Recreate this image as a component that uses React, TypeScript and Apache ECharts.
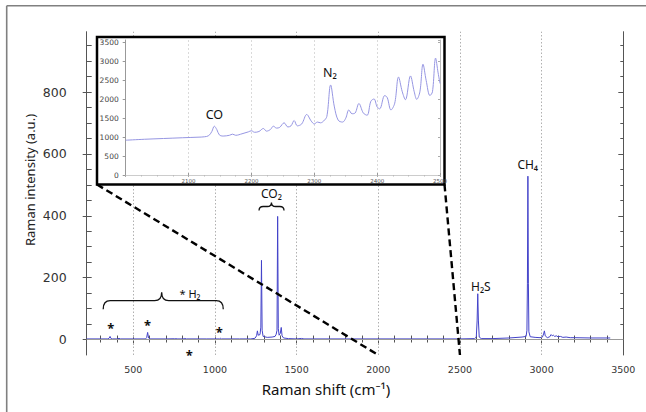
import React, { useEffect, useRef } from 'react';
import * as echarts from 'echarts';

// ---------------- data ----------------
const mainShift = [
  215, 300, 345, 352, 358, 364, 372, 405, 413, 420, 500, 575, 582, 588, 594, 602,
  700, 752, 760, 768, 805, 815, 825, 950, 1030, 1035, 1040, 1150, 1220, 1245, 1255,
  1260, 1265, 1276, 1281, 1285, 1289, 1295, 1320, 1350, 1368, 1375, 1380, 1384, 1388,
  1393, 1400, 1406, 1411, 1420, 1450, 1500, 1530, 1545, 1700, 2000, 2300, 2500, 2590,
  2600, 2605, 2609, 2613, 2618, 2630, 2700, 2800, 2880, 2905, 2910, 2913, 2916, 2919,
  2922, 2930, 2960, 2990, 3005, 3012, 3017, 3022, 3035, 3050, 3058, 3065, 3072, 3080,
  3090, 3100, 3115, 3130, 3150, 3175, 3200, 3300, 3420,
];
const mainIntensity = [
  2, 2, 2, 4, 10, 3, 2, 2, 4, 2, 2, 2, 6, 23, 5, 2,
  2, 2.5, 3, 2, 2, 3.5, 2, 2, 2, 4, 2, 2, 2, 4, 12,
  28, 14, 16, 40, 256, 30, 10, 7, 8, 10, 17, 30, 398, 35,
  14, 20, 39, 12, 5, 3, 2, 3.5, 2, 2, 2, 2, 2, 3,
  8, 60, 148, 60, 8, 3, 3, 5, 8, 10, 30, 180, 528, 180,
  25, 9, 7, 6, 8, 18, 28, 12, 6, 9, 16, 12, 14, 10,
  12, 9, 10, 7, 8, 6, 6, 5, 5,
];

const insetShift = [
  2000, 2030, 2060, 2090, 2115, 2125, 2132, 2137, 2141, 2145, 2149, 2155, 2165, 2170,
  2175, 2185, 2195, 2200, 2205, 2212, 2219, 2224, 2230, 2235, 2240, 2245, 2252, 2258,
  2263, 2268, 2273, 2280, 2288, 2295, 2300, 2305, 2310, 2315, 2320, 2326, 2332, 2338,
  2345, 2350, 2355, 2360, 2365, 2371, 2378, 2384, 2390, 2395, 2400, 2404, 2412, 2416,
  2422, 2428, 2434, 2440, 2445, 2453, 2459, 2463, 2468, 2473, 2478, 2484, 2488, 2493,
  2497, 2500,
];
const insetIntensity = [
  920, 945, 965, 985, 1000, 1010, 1040, 1150, 1290, 1200, 1060, 1030, 1050, 1080,
  1050, 1090, 1140, 1170, 1130, 1150, 1230, 1160, 1200, 1290, 1240, 1260, 1380, 1270,
  1300, 1440, 1300, 1350, 1600, 1430, 1350, 1400, 1380, 1430, 1550, 2380, 1800, 1450,
  1400, 1500, 1720, 1620, 1640, 1890, 1640, 1580, 1950, 2010, 1800, 1750, 2100, 2050,
  1720, 1900, 2590, 2200, 1990, 2620, 2200, 2000, 2200, 2930, 2500, 2100, 2200, 3090,
  2700, 2420,
];

const xLabelValues = [500, 1000, 1500, 2000, 2500, 3000, 3500];
const xMinorValues = [
  300, 400, 500, 600, 700, 800, 900, 1000, 1100, 1200, 1300, 1400, 1500, 1600, 1700,
  1800, 1900, 2000, 2100, 2200, 2300, 2400, 2500, 2600, 2700, 2800, 2900, 3000, 3100,
  3200, 3300, 3400, 3500,
];
const yLabelValues = [0, 200, 400, 600, 800];
const yMinorValues = [
  0, 50, 100, 150, 200, 250, 300, 350, 400, 450, 500, 550, 600, 650, 700, 750, 800,
  850, 900, 950,
];
const gridXValues = [500, 1000, 1500, 2000, 2500, 3000];
const insetXLabels = [2100, 2200, 2300, 2400, 2500];
const insetYLabels = [0, 500, 1000, 1500, 2000, 2500, 3000, 3500];

// annotation anchors (data coordinates)
const asterisks: [number, number][] = [
  [363, 48], [588, 57], [1026, 33], [843, -40],
];
const peakLabels: { text: string; x: number; y: number; size: number }[] = [
  { text: 'CO₂', x: 1346, y: 471, size: 12 },
  { text: 'H₂S', x: 2628, y: 173, size: 12 },
  { text: 'CH₄', x: 2915, y: 565, size: 12 },
  { text: '* H₂', x: 847, y: 149, size: 11 },
];
const braces: { x0: number; xm: number; x1: number; yt: number; yb: number }[] = [
  { x0: 316, xm: 674, x1: 1051, yt: 153, yb: 98 },
  { x0: 1270, xm: 1346, x1: 1423, yt: 443, yb: 417 },
];
const insetLabels: { text: string; x: number; y: number }[] = [
  { text: 'CO', x: 2141, y: 1600 },
  { text: 'N₂', x: 2325, y: 2717 },
];

// ---------------- shapes ----------------
const Brace = echarts.graphic.extendShape({
  shape: { x0: 0, xm: 0, x1: 0, yt: 0, yb: 0 },
  buildPath(ctx: any, s: any) {
    const ym = (s.yt + s.yb) / 2;
    const r1 = Math.min(7, (s.xm - s.x0) / 3);
    const r2 = Math.min(7, (s.x1 - s.xm) / 3);
    ctx.moveTo(s.x0, s.yb);
    ctx.quadraticCurveTo(s.x0, ym, s.x0 + r1, ym);
    ctx.lineTo(s.xm - r1, ym);
    ctx.quadraticCurveTo(s.xm, ym, s.xm, s.yt);
    ctx.moveTo(s.xm, s.yt);
    ctx.quadraticCurveTo(s.xm, ym, s.xm + r2, ym);
    ctx.lineTo(s.x1 - r2, ym);
    ctx.quadraticCurveTo(s.x1, ym, s.x1, s.yb);
  },
});
echarts.graphic.registerShape('brace', Brace);

// ---------------- layout ----------------
const MAIN = { left: 86.7, right: 22.7, top: 31.7, bottom: 57 };
const BOX = { x: 97, y: 37, w: 347.5, h: 147.5 };
const INSET = { left: 125.7, right: 206, top: 40, bottom: 237 };
const AXIS_COLOR = '#555';
const LABEL_FONT = 'DejaVu Sans';
const ANNOT_FONT = 'Noto Sans';
const plain = (v: number) => String(v);

export default function App() {
  const ref = useRef<HTMLDivElement>(null);

  useEffect(() => {
    if (!ref.current) return;
    const chart = echarts.init(ref.current, undefined, { renderer: 'svg' });

    const mainData = mainShift.map((x, i) => [x, mainIntensity[i]]);
    const insetData = insetShift.map((x, i) => [x, insetIntensity[i]]);

    const mainX = { type: 'value', gridIndex: 0, min: 215, max: 3500, splitLine: { show: false } };
    const mainY = { type: 'value', gridIndex: 0, min: -50, max: 995, splitLine: { show: false } };
    const lineStyle = { color: AXIS_COLOR, width: 1 };

    const option: any = {
      animation: false,
      textStyle: { fontFamily: LABEL_FONT },
      grid: [
        { ...MAIN, containLabel: false },
        { ...INSET, containLabel: false },
      ],
      xAxis: [
        {
          ...mainX, position: 'bottom',
          axisLine: { show: true, lineStyle },
          axisLabel: { customValues: xLabelValues, formatter: plain, fontSize: 9.5, color: '#333', margin: 9.5 },
          axisTick: { show: true, customValues: xLabelValues, inside: false, length: 3, lineStyle },
        },
        {
          ...mainX, position: 'bottom',
          axisLine: { show: false },
          axisLabel: { show: false },
          axisTick: { show: true, customValues: xMinorValues, inside: true, length: 4, lineStyle },
        },
        {
          ...mainX, position: 'top',
          axisLine: { show: true, lineStyle },
          axisLabel: { show: false },
          axisTick: { show: true, customValues: xMinorValues, inside: true, length: 3, lineStyle },
        },
        {
          ...mainX, position: 'top',
          axisLine: { show: false },
          axisLabel: { show: false },
          axisTick: { show: true, customValues: xLabelValues, inside: true, length: 5, lineStyle },
        },
        {
          type: 'value', gridIndex: 1, position: 'bottom', min: 2000, max: 2500, interval: 100,
          z: 11,
          axisLine: { show: true, lineStyle: { color: '#999', width: 1 } },
          axisLabel: { customValues: insetXLabels, formatter: plain, fontSize: 5.5, color: '#555', margin: 3 },
          axisTick: { show: true, inside: true, length: 2, lineStyle: { color: '#999' } },
          splitLine: { show: true, lineStyle: { color: '#d0d0d0', type: [2, 2], width: 0.8 } },
        },
        {
          type: 'value', gridIndex: 1, position: 'top', min: 2000, max: 2500, interval: 100,
          z: 11,
          axisLine: { show: true, lineStyle: { color: '#ccc', width: 1 } },
          axisLabel: { show: false },
          axisTick: { show: true, inside: true, length: 2, lineStyle: { color: '#aaa' } },
          minorTick: { show: true, splitNumber: 4, length: 1.5, lineStyle: { color: '#bbb' } },
          splitLine: { show: false },
        },
      ],
      yAxis: [
        {
          ...mainY, position: 'left',
          axisLine: { show: true, lineStyle },
          axisLabel: { customValues: yLabelValues, formatter: plain, fontSize: 12.5, color: '#333', margin: 20 },
          axisTick: { show: true, customValues: yLabelValues, inside: false, length: 4, lineStyle },
        },
        {
          ...mainY, position: 'left',
          axisLine: { show: false },
          axisLabel: { show: false },
          axisTick: { show: true, customValues: yMinorValues, inside: true, length: 5, lineStyle },
        },
        {
          ...mainY, position: 'right',
          axisLine: { show: true, lineStyle },
          axisLabel: { show: false },
          axisTick: { show: true, customValues: yMinorValues, inside: true, length: 3, lineStyle },
        },
        {
          ...mainY, position: 'right',
          axisLine: { show: false },
          axisLabel: { show: false },
          axisTick: { show: true, customValues: yLabelValues, inside: true, length: 5, lineStyle },
        },
        {
          type: 'value', gridIndex: 1, position: 'left', min: 0, max: 3570, interval: 500,
          z: 11,
          axisLine: { show: true, lineStyle: { color: '#999', width: 1 } },
          axisLabel: { customValues: insetYLabels, formatter: plain, fontSize: 7.5, color: '#444', margin: 7 },
          axisTick: { show: true, customValues: insetYLabels, length: 3, lineStyle: { color: '#999' } },
          splitLine: { show: false },
        },
        {
          type: 'value', gridIndex: 1, position: 'right', min: 0, max: 3570, interval: 500,
          z: 11,
          axisLine: { show: true, lineStyle: { color: '#bbb', width: 1 } },
          axisLabel: { show: false },
          axisTick: { show: true, inside: true, length: 2, lineStyle: { color: '#aaa' } },
          splitLine: { show: false },
        },
      ],
      series: [
        {
          type: 'line', xAxisIndex: 0, yAxisIndex: 0, z: 3,
          data: mainData, showSymbol: false, symbol: 'none',
          lineStyle: { color: '#4343c9', width: 1 },
        },
        {
          type: 'line', xAxisIndex: 4, yAxisIndex: 4, z: 12,
          data: insetData, showSymbol: false, symbol: 'none', smooth: 0.35,
          lineStyle: { color: '#9696e2', width: 1 },
        },
        {
          type: 'line', xAxisIndex: 0, yAxisIndex: 0, z: 1,
          data: [[215, 0]], showSymbol: false, symbol: 'none',
          lineStyle: { opacity: 0 },
          markLine: {
            silent: true, symbol: ['none', 'none'], label: { show: false },
            data: [
              { yAxis: 0, lineStyle: { color: '#9a9a9a', type: 'solid', width: 1 } },
              ...gridXValues.map((v) => ({ xAxis: v, lineStyle: { color: '#b0b0b0', type: [1.5, 2], width: 1 } })),
            ],
          },
        },
      ],
    };

    chart.setOption(option);

    const p = (x: number, y: number) => chart.convertToPixel({ seriesIndex: 0 }, [x, y]) as number[];
    const pi = (x: number, y: number) => chart.convertToPixel({ seriesIndex: 1 }, [x, y]) as number[];

    const graphics: any[] = [];
    // outer frame (top and left)
    graphics.push({ type: 'line', z: 1, shape: { x1: 6.7, y1: 5.7, x2: 646, y2: 5.7 }, style: { stroke: '#808080', lineWidth: 1.6 } });
    graphics.push({ type: 'line', z: 1, shape: { x1: 6.7, y1: 5.7, x2: 6.7, y2: 412 }, style: { stroke: '#808080', lineWidth: 1.6 } });

    // inset box
    graphics.push({
      type: 'rect', z: 10,
      shape: { x: BOX.x, y: BOX.y, width: BOX.w, height: BOX.h },
      style: { fill: '#fff', stroke: '#000', lineWidth: 2.5 },
    });

    // zoom lines from the inset corners to the axis
    const a = p(2000, -50);
    const b = p(2500, -50);
    graphics.push({ type: 'line', z: 20, shape: { x1: BOX.x, y1: BOX.y + BOX.h, x2: a[0], y2: a[1] }, style: { stroke: '#000', lineWidth: 2.4, lineDash: [7, 4] } });
    graphics.push({ type: 'line', z: 20, shape: { x1: BOX.x + BOX.w, y1: BOX.y + BOX.h, x2: b[0], y2: b[1] }, style: { stroke: '#000', lineWidth: 2.4, lineDash: [7, 4] } });

    // axis titles
    graphics.push({
      type: 'text', z: 20, x: 30, y: 180, rotation: Math.PI / 2,
      style: { text: 'Raman intensity (a.u.)', font: `13px "${ANNOT_FONT}"`, fill: '#222', align: 'center', verticalAlign: 'middle' },
    });
    graphics.push({
      type: 'text', z: 20, x: 326, y: 389,
      style: { text: 'Raman shift (cm⁻¹)', font: `15px "${ANNOT_FONT}"`, fill: '#111', align: 'center', verticalAlign: 'middle' },
    });

    // peak labels
    peakLabels.forEach((l) => {
      const q = p(l.x, l.y);
      graphics.push({
        type: 'text', z: 20, x: q[0], y: q[1],
        style: { text: l.text, font: `${l.size}px "${ANNOT_FONT}"`, fill: '#111', align: 'center', verticalAlign: 'middle' },
      });
    });
    asterisks.forEach(([x, y]) => {
      const q = p(x, y);
      graphics.push({
        type: 'text', z: 20, x: q[0], y: q[1] + 3,
        style: { text: '*', font: `bold 13px "${ANNOT_FONT}"`, fill: '#111', align: 'center', verticalAlign: 'middle' },
      });
    });
    braces.forEach((br) => {
      const l = p(br.x0, br.yb);
      const m = p(br.xm, br.yt);
      const r = p(br.x1, br.yb);
      graphics.push({
        type: 'brace', z: 20,
        shape: { x0: l[0], xm: m[0], x1: r[0], yt: m[1], yb: l[1] },
        style: { stroke: '#111', fill: null, lineWidth: 1.3 },
      });
    });
    insetLabels.forEach((l) => {
      const q = pi(l.x, l.y);
      graphics.push({
        type: 'text', z: 20, x: q[0], y: q[1],
        style: { text: l.text, font: `12.5px "${ANNOT_FONT}"`, fill: '#111', align: 'center', verticalAlign: 'middle' },
      });
    });

    chart.setOption({ graphic: { elements: graphics } });

    return () => chart.dispose();
  }, []);

  return (
    <div
      ref={ref}
      style={{ position: 'fixed', left: 0, top: 0, width: 646, height: 412, background: '#fff' }}
    />
  );
}
